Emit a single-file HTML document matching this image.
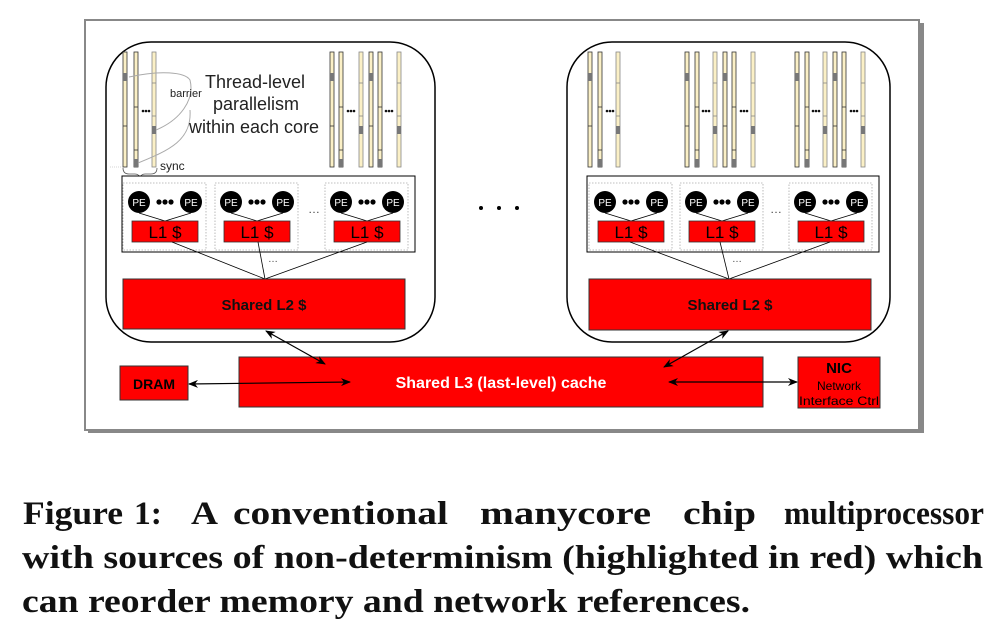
<!DOCTYPE html>
<html><head><meta charset="utf-8"><style>
html,body{margin:0;padding:0;background:#fff;}
svg{display:block;}
</style></head><body>
<svg width="997" height="631" viewBox="0 0 997 631" xmlns="http://www.w3.org/2000/svg" font-family="Liberation Sans, sans-serif">
<defs>
<marker id="ah" markerWidth="10" markerHeight="8" refX="9" refY="4" orient="auto-start-reverse" markerUnits="userSpaceOnUse">
<path d="M0,0 L10,4 L0,8 L3,4 z" fill="#000"/>
</marker>
<g id="barA"><rect x="0" y="52" width="4" height="115" fill="#fbf0c6" stroke="#333" stroke-width="0.8"/><rect x="0" y="73" width="4" height="8" fill="#777"/><line x1="0" y1="126" x2="4" y2="126" stroke="#333" stroke-width="0.8"/></g>
<g id="barB"><rect x="0" y="52" width="4" height="115" fill="#fbf0c6" stroke="#333" stroke-width="0.8"/><rect x="0" y="159" width="4" height="8" fill="#777"/><line x1="0" y1="107" x2="4" y2="107" stroke="#333" stroke-width="0.8"/><line x1="0" y1="150" x2="4" y2="150" stroke="#333" stroke-width="0.8"/></g>
<g id="barC"><rect x="0" y="52" width="4" height="115" fill="#fbf0c6" stroke="#888" stroke-width="0.8"/><rect x="0" y="126" width="4" height="8" fill="#777"/><line x1="0" y1="83" x2="4" y2="83" stroke="#888" stroke-width="0.8"/><line x1="0" y1="116" x2="4" y2="116" stroke="#888" stroke-width="0.8"/></g>
<g id="dots"><circle cx="0" cy="111" r="1.3" fill="#111"/><circle cx="3" cy="111" r="1.3" fill="#111"/><circle cx="6" cy="111" r="1.3" fill="#111"/></g>
<g id="pe">
<rect x="0" y="0" width="83" height="67" fill="none" stroke="#aaa" stroke-width="0.8" stroke-dasharray="1.5,1.5"/>
<circle cx="16" cy="19" r="11" fill="#000"/><circle cx="68" cy="19" r="11" fill="#000"/>
<text x="16" y="23" font-size="10" fill="#fff" text-anchor="middle">PE</text>
<text x="68" y="23" font-size="10" fill="#fff" text-anchor="middle">PE</text>
<circle cx="36" cy="19" r="2.6" fill="#000"/><circle cx="42" cy="19" r="2.6" fill="#000"/><circle cx="48" cy="19" r="2.6" fill="#000"/>
<line x1="16" y1="30" x2="42" y2="38" stroke="#000" stroke-width="0.8"/><line x1="68" y1="30" x2="42" y2="38" stroke="#000" stroke-width="0.8"/>
<rect x="9" y="38" width="66" height="21" fill="#f00" stroke="#333" stroke-width="0.8"/>
<text x="42" y="55" font-size="17" fill="#000" text-anchor="middle">L1 $</text>
</g>
</defs>
<rect x="88" y="23" width="836" height="410" fill="#888"/>
<rect x="85" y="20" width="834" height="410" fill="#fff" stroke="#888" stroke-width="2"/>
<rect x="106" y="42" width="329" height="300" rx="45" fill="#fff" stroke="#000" stroke-width="1.5"/>
<rect x="567" y="42" width="323" height="300" rx="45" fill="#fff" stroke="#000" stroke-width="1.5"/>
<use href="#barA" x="123"/><use href="#barB" x="134"/><use href="#barC" x="152"/>
<use href="#dots" x="143"/>
<use href="#barA" x="330"/><use href="#barB" x="339"/><use href="#barC" x="359"/><use href="#barA" x="369"/><use href="#barB" x="378"/><use href="#barC" x="397"/>
<use href="#dots" x="348"/><use href="#dots" x="386"/>
<use href="#barA" x="588"/><use href="#barB" x="598"/><use href="#barC" x="616"/><use href="#dots" x="607"/>
<use href="#barA" x="685"/><use href="#barB" x="695"/><use href="#barC" x="713"/><use href="#barA" x="723"/><use href="#barB" x="732"/><use href="#barC" x="751"/>
<use href="#dots" x="703"/><use href="#dots" x="741"/>
<use href="#barA" x="795"/><use href="#barB" x="805"/><use href="#barC" x="823"/><use href="#barA" x="833"/><use href="#barB" x="842"/><use href="#barC" x="861"/>
<use href="#dots" x="813"/><use href="#dots" x="851"/>
<path d="M129,77 C160,70 185,72 190,80 C195,100 180,120 156,130" fill="none" stroke="#aaa" stroke-width="1"/>
<path d="M138,163 C170,150 192,140 190,110" fill="none" stroke="#aaa" stroke-width="1"/>
<text x="170" y="97" font-size="11" fill="#222">barrier</text>
<text x="205" y="88" font-size="18" fill="#222">Thread-level</text>
<text x="213" y="110" font-size="18" fill="#222">parallelism</text>
<text x="189" y="133" font-size="18" fill="#222">within each core</text>
<line x1="110" y1="167" x2="123" y2="167" stroke="#aaa" stroke-width="0.6" stroke-dasharray="1,1"/>
<path d="M123,168 q0,6 6,6 h6 q4,0 5,4 q1,-4 5,-4 h6 q6,0 6,-6" fill="none" stroke="#555" stroke-width="0.8"/>
<text x="160" y="170" font-size="12" fill="#222">sync</text>
<rect x="122" y="176" width="293" height="76" fill="#fff" stroke="#000" stroke-width="1"/>
<use href="#pe" x="123" y="183"/><use href="#pe" x="215" y="183"/><use href="#pe" x="325" y="183"/>
<text x="308" y="213" font-size="12" fill="#444">…</text>
<rect x="587" y="176" width="292" height="76" fill="#fff" stroke="#000" stroke-width="1"/>
<use href="#pe" x="589" y="183"/><use href="#pe" x="680" y="183"/><use href="#pe" x="789" y="183"/>
<text x="770" y="213" font-size="12" fill="#444">…</text>
<line x1="172" y1="242" x2="265" y2="279" stroke="#000" stroke-width="0.8"/>
<line x1="258" y1="242" x2="265" y2="279" stroke="#000" stroke-width="0.8"/>
<line x1="367" y1="242" x2="265" y2="279" stroke="#000" stroke-width="0.8"/>
<text x="268" y="262" font-size="10" fill="#444">…</text>
<line x1="630" y1="242" x2="729" y2="279" stroke="#000" stroke-width="0.8"/>
<line x1="720" y1="242" x2="729" y2="279" stroke="#000" stroke-width="0.8"/>
<line x1="830" y1="242" x2="729" y2="279" stroke="#000" stroke-width="0.8"/>
<text x="732" y="262" font-size="10" fill="#444">…</text>
<rect x="123" y="279" width="282" height="50" fill="#f00" stroke="#333" stroke-width="1"/>
<text x="264" y="310" font-size="15" font-weight="bold" fill="#111" text-anchor="middle">Shared L2 $</text>
<rect x="589" y="279" width="282" height="51" fill="#f00" stroke="#333" stroke-width="1"/>
<text x="730" y="310" font-size="15" font-weight="bold" fill="#111" text-anchor="middle">Shared L2 $</text>
<circle cx="481" cy="208" r="2" fill="#000"/><circle cx="499" cy="208" r="2" fill="#000"/><circle cx="517" cy="208" r="2" fill="#000"/>
<rect x="239" y="357" width="524" height="50" fill="#f00" stroke="#333" stroke-width="1"/>
<text x="501" y="388" font-size="16" font-weight="bold" fill="#fff" text-anchor="middle">Shared L3 (last-level) cache</text>
<rect x="120" y="366" width="68" height="34" fill="#f00" stroke="#333" stroke-width="1"/>
<text x="154" y="389" font-size="14" font-weight="bold" fill="#000" text-anchor="middle">DRAM</text>
<rect x="798" y="357" width="82" height="51" fill="#f00" stroke="#333" stroke-width="1"/>
<text x="839" y="373" font-size="15" font-weight="bold" fill="#000" text-anchor="middle">NIC</text>
<text x="839" y="390" font-size="12" fill="#000" text-anchor="middle">Network</text>
<text x="839" y="405" font-size="12" fill="#000" text-anchor="middle" textLength="80" lengthAdjust="spacingAndGlyphs">Interface Ctrl</text>
<line x1="266" y1="331" x2="325" y2="364" stroke="#000" stroke-width="1.2" marker-start="url(#ah)" marker-end="url(#ah)"/>
<line x1="189" y1="384" x2="350" y2="382" stroke="#000" stroke-width="1.2" marker-start="url(#ah)" marker-end="url(#ah)"/>
<line x1="728" y1="331" x2="664" y2="367" stroke="#000" stroke-width="1.2" marker-start="url(#ah)" marker-end="url(#ah)"/>
<line x1="669" y1="382" x2="797" y2="382" stroke="#000" stroke-width="1.2" marker-start="url(#ah)" marker-end="url(#ah)"/>
<g font-family="Liberation Serif, serif" font-weight="bold" font-size="33" fill="#111" lengthAdjust="spacingAndGlyphs">
<text x="23" y="524" textLength="100" lengthAdjust="spacingAndGlyphs">Figure</text>
<text x="134" y="524" textLength="28" lengthAdjust="spacingAndGlyphs">1:</text>
<text x="191" y="524" textLength="27" lengthAdjust="spacingAndGlyphs">A</text>
<text x="233" y="524" textLength="215" lengthAdjust="spacingAndGlyphs">conventional</text>
<text x="480" y="524" textLength="171" lengthAdjust="spacingAndGlyphs">manycore</text>
<text x="683" y="524" textLength="73" lengthAdjust="spacingAndGlyphs">chip</text>
<text x="784" y="524" textLength="200" lengthAdjust="spacingAndGlyphs">multiprocessor</text>
<text x="22" y="568" textLength="961" lengthAdjust="spacingAndGlyphs">with sources of non-determinism (highlighted in red) which</text>
<text x="22" y="612" textLength="728" lengthAdjust="spacingAndGlyphs">can reorder memory and network references.</text>
</g>
</svg>
</body></html>
